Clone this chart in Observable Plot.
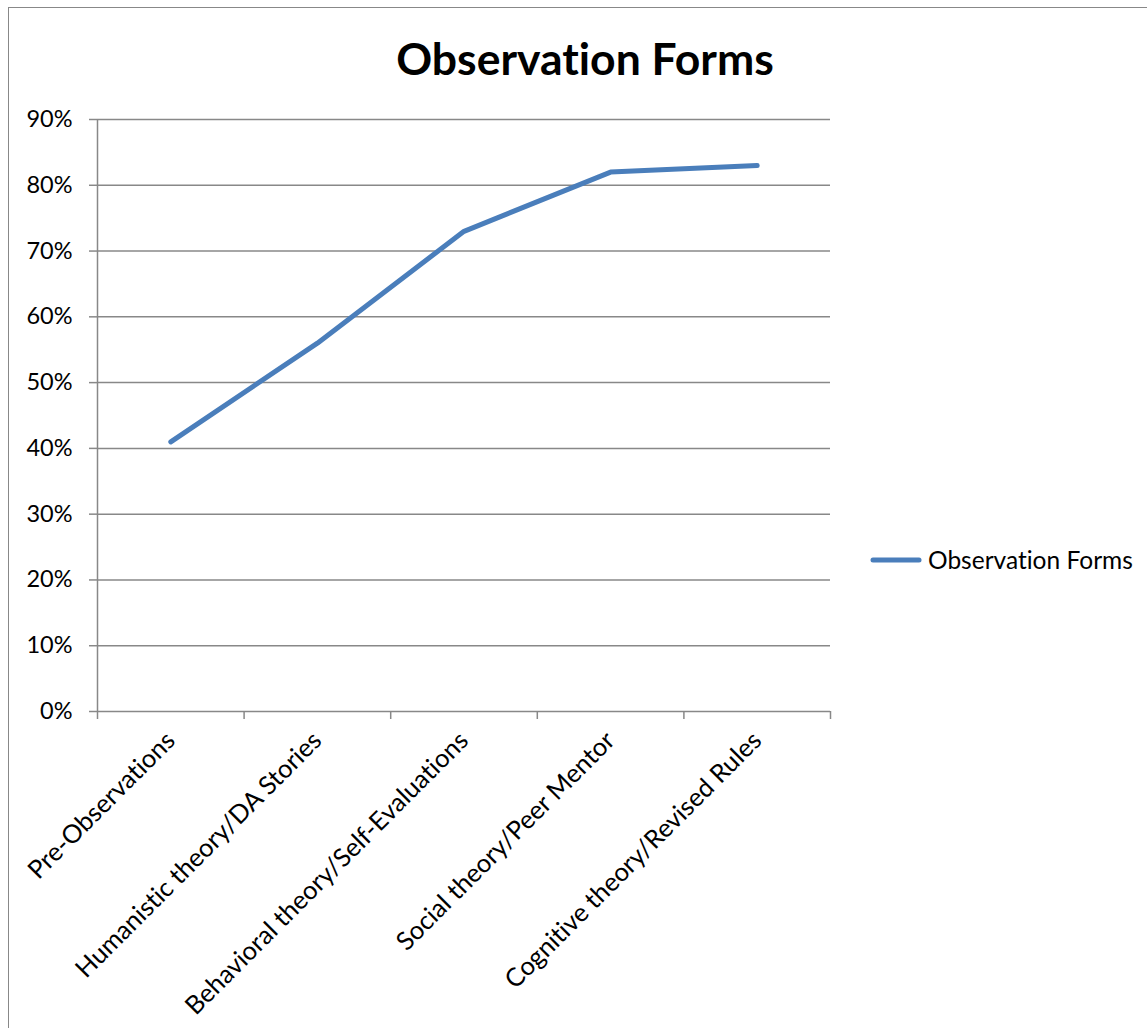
<!DOCTYPE html>
<html>
<head>
<meta charset="utf-8">
<script src="https://cdn.jsdelivr.net/npm/d3@7"></script>
<script src="https://cdn.jsdelivr.net/npm/@observablehq/plot@0.6"></script>
<style>
  html, body { margin: 0; padding: 0; background: #fff; overflow: hidden; }
  #wrap { position: relative; width: 1147px; height: 1028px; overflow: hidden; font-family: Lato, "Open Sans", sans-serif; font-variant-ligatures: none; }
  #wrap * { font-variant-ligatures: none; }
  #border { position: absolute; left: 8px; top: 7px; width: 1200px; height: 1100px; border: 1.5px solid #888; box-sizing: border-box; }
  #title { position: absolute; left: 0; top: 31px; width: 1170px; text-align: center; font-weight: bold; font-size: 44.5px; color: #000; }
  #chart { position: absolute; left: 0; top: 0; }
  #legend { position: absolute; left: 870px; top: 545px; display: flex; align-items: center; font-size: 24.5px; color: #000; }
  #legend svg { margin-right: 6px; }
  .xlab text { font-size: 25.5px; }
</style>
</head>
<body>
<div id="wrap">
  <div id="border"></div>
  <div id="title">Observation Forms</div>
  <div id="chart"></div>
  <div id="legend"><svg width="52" height="10"><line x1="3" y1="5" x2="49" y2="5" stroke="#4A7EBB" stroke-width="5" stroke-linecap="round"/></svg><span>Observation Forms</span></div>
</div>
<script>
const categories = [
  "Pre-Observations",
  "Humanistic theory/DA Stories",
  "Behavioral theory/Self-Evaluations",
  "Social theory/Peer Mentor",
  "Cognitive theory/Revised Rules"
];
const values = [0.41, 0.56, 0.73, 0.82, 0.83];
const yTicks = [0, 0.1, 0.2, 0.3, 0.4, 0.5, 0.6, 0.7, 0.8, 0.9];

const data = categories.map((c, i) => ({i, category: c, value: values[i]}));
const bounds = d3.range(categories.length + 1).map(k => k - 0.5);
const gray = "#888888";

const plot = Plot.plot({
  width: 1147,
  height: 1028,
  marginLeft: 97,
  marginRight: 317,
  marginTop: 119,
  marginBottom: 317,
  style: {fontFamily: "Lato, 'Open Sans', sans-serif", fontSize: "23.5px", color: "#000", background: "transparent"},
  x: {type: "linear", domain: [-0.5, categories.length - 0.5]},
  y: {domain: [0, 0.9]},
  marks: [
    Plot.ruleY(yTicks, {stroke: gray, strokeWidth: 1.5, strokeOpacity: 1}),
    Plot.ruleX([-0.5], {y1: 0, y2: 0.9, stroke: gray, strokeWidth: 1.5}),
    Plot.axisY({ticks: yTicks, tickFormat: d3.format(".0%"), tickSize: 8, tickPadding: 17, stroke: gray, strokeWidth: 1.5, strokeOpacity: 1, label: null, fill: "#000"}),
    Plot.axisX({ticks: bounds, tickFormat: () => "", tickSize: 8, stroke: gray, strokeWidth: 1.5, strokeOpacity: 1, label: null}),
    Plot.axisX({ticks: d3.range(categories.length), tickFormat: i => categories[i], tickSize: 0, tickPadding: 25, tickRotate: -45, label: null, fill: "#000", className: "xlab"}),
    Plot.line(data, {x: "i", y: "value", stroke: "#4A7EBB", strokeWidth: 5, strokeLinecap: "round", strokeLinejoin: "round"})
  ]
});
document.getElementById("chart").appendChild(plot);
</script>
</body>
</html>
